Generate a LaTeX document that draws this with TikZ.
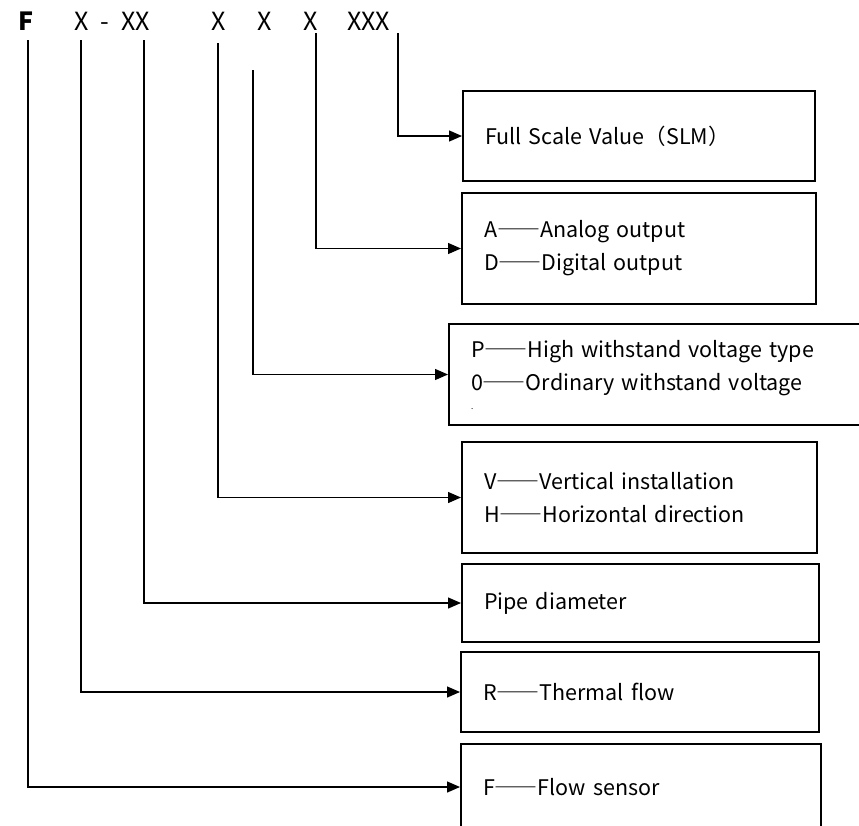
\documentclass[tikz,border=0pt]{standalone}
\usepackage{fontspec}
\setmainfont{Noto Sans CJK SC}
\newfontfamily\fulldashfont[CharacterWidth=Full]{Noto Sans CJK SC}
\newcommand{\codedash}{{\fulldashfont ——}}
\usetikzlibrary{arrows.meta}

\begin{document}
\begin{tikzpicture}[x=1pt,y=-1pt,
    code_box/.style ={rectangle, draw=black, line width=2pt, fill=white,
      anchor=north west, align=left, inner xsep=22pt, inner ysep=0pt,
      font=\fontsize{21.5}{33}\selectfont},
    code_label/.style ={anchor=base west, inner sep=0pt,
      font=\fontsize{25}{30}\selectfont},
    lead/.style ={draw, line width=1.3pt, -{Triangle[length=13pt,width=11pt]}}]
    \useasboundingbox (0,0) rectangle (859,825);
    % the type code along the top
    \node [code_label] (code_f) at (18,30) {\bfseries F};
    \node [code_label] (code_type) at (74,30) {X};
    \node [code_label] (code_dash) at (100,30) {-};
    \node [code_label] (code_pipe) at (121,30) {XX};
    \node [code_label] (code_mount) at (211,30) {X};
    \node [code_label] (code_volt) at (257,30) {X};
    \node [code_label] (code_out) at (303,30) {X};
    \node [code_label] (code_range) at (347,30) {XXX};
    % upper ends of the lead lines
    \coordinate (top_f) at (28,40);
    \coordinate (top_type) at (81,40);
    \coordinate (top_pipe) at (144,40);
    \coordinate (top_mount) at (218,43);
    \coordinate (top_volt) at (253,70);
    \coordinate (top_out) at (316,33);
    \coordinate (top_range) at (398,33);
    % meaning of each position
    \node [code_box, minimum height=90pt, text width=308pt] (range) at (462,90)
      {Full Scale Value（SLM）};
    \node [code_box, minimum height=111pt, text width=310pt] (output) at (461,192)
      {A\codedash Analog output\\D\codedash Digital output};
    \node [code_box, minimum height=101pt, text width=386pt] (voltage) at (448,323)
      {P\codedash High withstand voltage type\\0\codedash Ordinary withstand voltage\\[-14pt]{\fontsize{8}{8}\selectfont .}};
    \node [code_box, minimum height=111pt, text width=311pt] (mounting) at (461,441)
      {V\codedash Vertical installation\\H\codedash Horizontal direction};
    \node [code_box, minimum height=78pt, text width=313pt] (pipe) at (461,563)
      {Pipe diameter};
    \node [code_box, minimum height=80pt, text width=314pt] (principle) at (460,651)
      {R\codedash Thermal flow};
    \node [code_box, minimum height=86pt, text width=316pt] (sensor) at (460,743)
      {F\codedash Flow sensor};
    % connecting the code to the boxes
    \path [lead] (top_range) |- (range.west);
    \path [lead] (top_out) |- (output.west);
    \path [lead] (top_volt) |- (voltage.west);
    \path [lead] (top_mount) |- (mounting.west);
    \path [lead] (top_pipe) |- (pipe.west);
    \path [lead] (top_type) |- (principle.west);
    \path [lead] (top_f) |- (sensor.west);
\end{tikzpicture}
\end{document}
